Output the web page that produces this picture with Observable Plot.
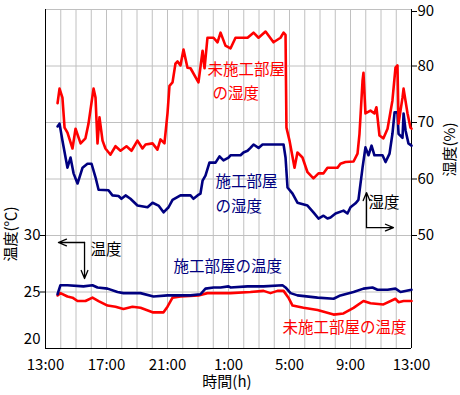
<!DOCTYPE html>
<html><head><meta charset="utf-8">
<script src="https://cdn.jsdelivr.net/npm/d3@7"></script>
<script src="https://cdn.jsdelivr.net/npm/@observablehq/plot@0.6"></script>
<style>body{margin:0;background:#fff;} svg{display:block}</style>
</head><body><div id="chart"></div>
<script>
// x = hours elapsed since 13:00
const xTickHours = [0, 4, 8, 12, 16, 20, 24];
const xTickLabels = ["13:00", "17:00", "21:00", "1:00", "5:00", "9:00", "13:00"];
const tempTicks = [20, 25, 30];
const humidTicks = [50, 60, 70, 80, 90];

// 未施工部屋の湿度 (%)
const humUntreatedT = [0.79,0.92,1.11,1.25,1.44,1.77,1.97,2.30,2.62,2.82,3.15,3.28,3.41,3.54,3.74,3.93,4.26,4.59,4.92,5.31,5.64,6.03,6.36,6.56,7.02,7.34,7.54,7.80,8.00,8.13,8.33,8.52,8.66,8.85,9.05,9.31,9.51,10.03,10.30,10.43,10.62,11.02,11.28,11.48,11.80,12.13,12.46,13.25,13.64,13.97,14.43,14.95,15.41,15.61,15.74,15.80,16.00,16.33,16.52,16.85,17.18,17.57,17.90,18.23,18.49,19.15,19.34,19.67,20.20,20.46,20.59,20.79,20.85,20.98,21.31,21.57,21.70,21.90,22.16,22.43,22.75,22.95,23.08,23.15,23.41,23.48,23.74,23.93,24.00];
const humUntreatedV = [73.4,76.0,74.4,69.1,68.2,65.4,68.9,66.3,67.2,69.8,76.0,74.4,66.3,70.9,66.8,65.4,64.3,65.8,65.0,65.8,65.0,66.8,65.4,66.1,66.3,65.2,67.0,66.3,71.6,76.5,77.1,80.4,80.8,80.1,82.9,79.7,79.6,77.1,82.7,79.6,85.0,85.0,84.2,85.9,83.6,83.1,85.0,85.0,85.9,85.0,86.1,84.2,85.0,85.9,85.5,69.1,66.8,62.0,64.7,63.8,61.2,60.1,61.0,61.0,62.0,62.0,62.7,63.0,63.1,64.5,68.0,77.4,78.8,71.6,72.1,71.6,72.7,67.7,67.2,68.9,73.9,79.7,80.1,69.8,74.4,76.0,71.6,69.1,68.9];

// 施工部屋の湿度 (%)
const humTreatedT = [0.79,0.92,1.11,1.44,1.64,1.84,2.10,2.43,2.75,3.02,3.28,3.48,4.13,4.39,4.79,4.98,5.25,5.57,6.03,6.69,7.02,7.41,7.74,8.07,8.33,8.85,9.51,9.70,9.97,10.16,10.30,10.49,10.75,11.15,11.41,11.67,12.00,12.13,12.79,12.98,13.25,13.44,13.64,13.97,14.23,15.61,15.74,15.87,16.20,16.52,17.18,17.57,17.90,18.23,18.49,18.69,19.02,19.54,19.80,20.00,20.33,20.52,20.79,20.98,21.18,21.38,21.57,22.10,22.30,22.56,22.75,22.89,23.08,23.15,23.41,23.48,23.61,23.80,24.00];
const humTreatedV = [69.3,69.8,66.8,62.0,63.8,61.0,59.2,62.0,62.7,62.7,60.3,58.1,58.0,57.1,57.0,56.5,57.1,56.5,55.3,55.0,55.8,55.3,54.1,55.0,56.3,57.1,57.1,56.5,57.1,57.4,59.7,60.6,62.9,62.9,64.0,63.3,63.8,64.2,64.2,64.7,65.0,65.5,66.1,65.5,66.1,66.1,63.8,58.5,57.4,55.8,55.3,54.1,53.0,53.5,53.0,53.2,53.9,54.4,53.9,55.0,55.7,56.3,62.0,65.6,64.2,65.9,64.2,64.2,63.0,64.5,68.0,71.8,71.8,68.0,67.3,71.6,68.6,66.3,65.9];

// 施工部屋の温度 (℃)
const tempTreatedT = [0.79,0.98,1.44,2.49,3.08,3.41,4.07,4.72,5.11,6.23,7.08,8.00,9.51,10.16,10.49,11.02,11.48,12.00,12.13,13.25,14.30,15.54,15.74,16.07,16.52,17.84,18.89,19.34,20.20,20.85,21.44,21.77,22.43,22.95,23.28,24.00];
const tempTreatedV = [24.8,25.6,25.6,25.5,25.6,25.4,25.3,25.0,24.9,24.9,24.6,24.7,24.7,24.8,25.3,25.4,25.4,25.5,25.4,25.5,25.5,25.6,25.4,24.9,24.7,24.5,24.4,24.7,25.0,25.3,25.4,25.2,25.2,25.3,25.0,25.2];

// 未施工部屋の温度 (℃)
const tempUntreatedT = [0.79,0.98,1.44,1.77,2.10,2.62,3.08,3.48,4.07,4.59,5.11,5.70,6.23,7.02,7.74,8.00,8.33,8.85,10.03,10.62,12.13,13.44,14.30,14.75,15.21,15.61,15.93,16.20,16.92,17.84,18.89,19.54,20.20,20.85,21.31,22.16,22.95,23.15,23.48,24.00];
const tempUntreatedV = [24.7,24.9,24.6,24.5,24.2,24.2,24.5,24.2,23.8,23.7,23.5,23.7,23.6,23.2,23.2,23.7,24.5,24.6,24.7,24.9,24.9,25.0,25.1,24.9,25.1,25.1,24.5,23.8,23.6,23.4,23.0,23.1,23.6,24.2,24.0,23.9,24.4,24.1,24.2,24.2];

const RED = "#ff0000", NAVY = "#000080", GRID = "#c0c0c0";
// y scale is humidity [30, 90]; temperature [20, 50] mapped onto it
const toY = t => 30 + (t - 20) * 2;
const fromY = h => (h - 30) / 2 + 20;
const series = (ts, vs) => ts.map((t, i) => ({x: t, y: vs[i]}));
const tseries = (ts, vs) => ts.map((t, i) => ({x: t, y: toY(vs[i])}));

const hU = series(humUntreatedT, humUntreatedV);
const hT = series(humTreatedT, humTreatedV);
const tT = tseries(tempTreatedT, tempTreatedV);
const tU = tseries(tempUntreatedT, tempUntreatedV);

const annot = (text, x, y, color, extra = {}) =>
  Plot.text([text], {x: () => x, y: () => y, text: d => d, fill: color, textAnchor: "start", fontSize: 15.5, ...extra});

const chart = Plot.plot({
  width: 460, height: 395,
  marginLeft: 45, marginRight: 49, marginTop: 9, marginBottom: 47,
  style: {fontFamily: "'Noto Sans CJK JP', sans-serif", fontSize: "15px", color: "#000", background: "#fff"},
  x: {domain: [0, 24]},
  y: {domain: [30, 90]},
  marks: [
    Plot.gridX(d3.range(0, 25, 1), {stroke: GRID, strokeOpacity: 1, strokeWidth: 1}),
    Plot.gridY(d3.range(30, 91, 10), {stroke: GRID, strokeOpacity: 1, strokeWidth: 1}),
    Plot.ruleX([0, 24], {stroke: "#000", strokeWidth: 1}),
    Plot.ruleY([30], {stroke: "#000", strokeWidth: 1}),
    Plot.axisX({ticks: xTickHours, tickFormat: d => xTickLabels[xTickHours.indexOf(d)], tickSize: 0, tickPadding: 11, label: null, fontSize: 15}),
    Plot.axisY({anchor: "left", ticks: tempTicks.slice(1).map(toY), tickFormat: h => String(fromY(h)), tickSize: 5, tickPadding: 0, label: null, fontSize: 15}),
    Plot.axisY({anchor: "left", ticks: tempTicks.slice(0, 1).map(toY), tickFormat: h => String(fromY(h)), tickSize: 0, tickPadding: 5, dy: -9, label: null, fontSize: 15}),
    Plot.axisY({anchor: "right", ticks: humidTicks.slice(0, 4), tickSize: 5, tickPadding: 1, label: null, fontSize: 15}),
    Plot.axisY({anchor: "right", ticks: humidTicks.slice(4), tickSize: 5, tickPadding: 1, dy: 2, label: null, fontSize: 15}),
    Plot.text(["温度(℃)"], {frameAnchor: "left", y: () => 45.4, dx: -34, rotate: -90, text: d => d, fill: "#000", fontSize: 15}),
    Plot.text(["湿度(%)"], {frameAnchor: "right", y: () => 70, dx: 39, rotate: -90, text: d => d, fill: "#000", fontSize: 15}),
    Plot.text(["時間(h)"], {frameAnchor: "bottom", x: () => 11.9, dy: 38, text: d => d, fill: "#000", fontSize: 15}),
    Plot.line(hT, {x: "x", y: "y", stroke: NAVY, strokeWidth: 2.6}),
    Plot.line(hU, {x: "x", y: "y", stroke: RED, strokeWidth: 2.6}),
    Plot.line(tU, {x: "x", y: "y", stroke: RED, strokeWidth: 2.6}),
    Plot.line(tT, {x: "x", y: "y", stroke: NAVY, strokeWidth: 2.6}),
    annot("未施工部屋", 10.62, 79.2, RED),
    annot("の湿度", 10.95, 75.0, RED),
    annot("施工部屋", 11.15, 59.55, NAVY),
    annot("の湿度", 11.15, 55.1, NAVY),
    annot("施工部屋の温度", 8.39, toY(27.17), NAVY),
    annot("未施工部屋の温度", 15.54, toY(21.77), RED),
    annot("温度", 2.95, toY(28.67), "#000"),
    annot("湿度", 21.18, 55.66, "#000"),
    Plot.arrow([{x1: 2.56, y1: toY(29.38), x2: 0.85, y2: toY(29.38)}, {x1: 2.56, y1: toY(29.38), x2: 2.56, y2: toY(26.19)}],
      {x1: "x1", y1: "y1", x2: "x2", y2: "y2", stroke: "#000", strokeWidth: 1.3, headLength: 10, headAngle: 45}),
    Plot.arrow([{x1: 21.05, y1: 51.4, x2: 21.05, y2: 57.6}, {x1: 21.05, y1: 51.4, x2: 22.82, y2: 51.4}],
      {x1: "x1", y1: "y1", x2: "x2", y2: "y2", stroke: "#000", strokeWidth: 1.3, headLength: 10, headAngle: 45})
  ]
});
document.getElementById("chart").appendChild(chart);
</script>
</body></html>
